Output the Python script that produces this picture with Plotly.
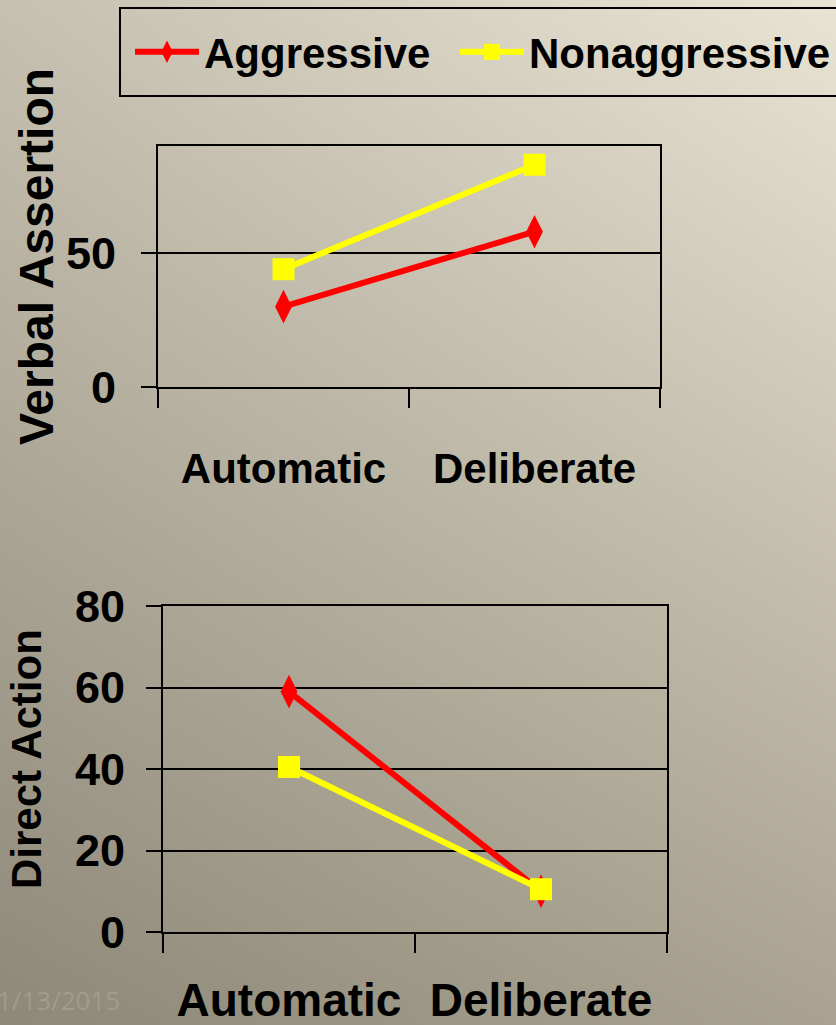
import base64
import struct
import zlib

import numpy as np
import plotly.graph_objects as go

# ---------------- data ----------------
conditions = ["Automatic", "Deliberate"]
series_names = ["Aggressive", "Nonaggressive"]
verbal_aggressive = [30, 58]
verbal_nonaggressive = [44, 83]
direct_aggressive = [59, 10]
direct_nonaggressive = [40.5, 10.5]
verbal_ticks = [0, 50]
direct_ticks = [0, 20, 40, 60, 80]
date_label = "1/13/2015"

W, H = 836, 1025
RED = "#ff0000"
YELLOW = "#ffff00"
FONT = "Liberation Sans, Arial, sans-serif"


# ---------------- background gradient (PNG data URI) ----------------
def gradient_uri(w=209, h=256):
    tl = np.array([198, 193, 177], float)
    tr = np.array([234, 228, 212], float)
    bl = np.array([142, 137, 121], float)
    br = np.array([170, 163, 145], float)
    u = np.linspace(0, 1, w)[None, :, None]
    v = np.linspace(0, 1, h)[:, None, None]
    img = (1 - u) * (1 - v) * tl + u * (1 - v) * tr + (1 - u) * v * bl + u * v * br
    img = np.clip(img, 0, 255).astype(np.uint8)
    raw = b"".join(b"\x00" + img[j].tobytes() for j in range(h))

    def chunk(tag, data):
        c = struct.pack(">I", len(data)) + tag + data
        return c + struct.pack(">I", zlib.crc32(tag + data) & 0xFFFFFFFF)

    png = (b"\x89PNG\r\n\x1a\n"
           + chunk(b"IHDR", struct.pack(">IIBBBBB", w, h, 8, 2, 0, 0, 0))
           + chunk(b"IDAT", zlib.compress(raw, 9))
           + chunk(b"IEND", b""))
    return "data:image/png;base64," + base64.b64encode(png).decode()


def px_x(p):
    return p / W


def px_y(p):
    return 1 - p / H


fig = go.Figure()

styles = {
    "Aggressive": dict(color=RED, symbol="diamond-tall", size=24, legend="legend"),
    "Nonaggressive": dict(color=YELLOW, symbol="square", size=22, legend="legend2"),
}

for name, vals in zip(series_names, [verbal_aggressive, verbal_nonaggressive]):
    st = styles[name]
    fig.add_trace(go.Scatter(
        x=conditions, y=vals, name=name, mode="lines+markers",
        line=dict(color=st["color"], width=6),
        marker=dict(color=st["color"], symbol=st["symbol"], size=st["size"]),
        xaxis="x", yaxis="y", showlegend=True, legend=st["legend"],
    ))

for name, vals in zip(series_names, [direct_aggressive, direct_nonaggressive]):
    st = styles[name]
    fig.add_trace(go.Scatter(
        x=conditions, y=vals, name=name, mode="lines+markers",
        line=dict(color=st["color"], width=6),
        marker=dict(color=st["color"], symbol=st["symbol"], size=st["size"]),
        xaxis="x2", yaxis="y2", showlegend=False,
    ))

common_x = dict(
    type="category", categoryorder="array", categoryarray=conditions,
    range=[-0.5, 1.5], tickson="boundaries", ticks="outside", ticklen=19,
    tickwidth=2, tickcolor="black", showline=True, linecolor="black",
    linewidth=2, mirror=True, showgrid=False, zeroline=False,
    tickangle=0, automargin=False,
)
common_y = dict(
    ticks="outside", ticklen=15, tickwidth=2, tickcolor="black",
    showline=True, linecolor="black", linewidth=2, mirror=True,
    showgrid=True, gridcolor="black", gridwidth=2, zeroline=False,
    automargin=False,
)
legend_common = dict(
    orientation="h", y=px_y(52), xanchor="left", yanchor="middle",
    bgcolor="rgba(0,0,0,0)", borderwidth=0,
    font=dict(family=FONT, size=42, color="black", weight=700),
    itemwidth=64, itemsizing="trace",
)

fig.update_layout(
    width=W, height=H,
    margin=dict(l=0, r=0, t=0, b=0, autoexpand=False),
    paper_bgcolor="#b5ae9c",
    plot_bgcolor="rgba(0,0,0,0)",
    images=[dict(source=gradient_uri(), xref="paper", yref="paper", x=0, y=1,
                 sizex=1, sizey=1, sizing="stretch", layer="below",
                 xanchor="left", yanchor="top")],
    xaxis=dict(common_x, domain=[px_x(158), px_x(660)], anchor="y",
               tickfont=dict(family=FONT, size=42, color="black", weight=700),
               ticklabelstandoff=44),
    yaxis=dict(common_y, domain=[px_y(387), px_y(146)], anchor="x",
               range=[0, 90], tickvals=verbal_ticks,
               tickfont=dict(family=FONT, size=45, color="black", weight=700),
               ticklabelstandoff=16),
    xaxis2=dict(common_x, domain=[px_x(163), px_x(667)], anchor="y2",
                tickfont=dict(family=FONT, size=46, color="black", weight=700),
                ticklabelstandoff=27),
    yaxis2=dict(common_y, domain=[px_y(932), px_y(606)], anchor="x2",
                range=[0, 80], tickvals=direct_ticks,
                tickfont=dict(family=FONT, size=45, color="black", weight=700),
                ticklabelstandoff=12),
    legend=dict(legend_common, x=px_x(130)),
    legend2=dict(legend_common, x=px_x(455)),
    shapes=[dict(type="rect", xref="paper", yref="paper",
                 x0=px_x(120), x1=px_x(850), y0=px_y(96), y1=px_y(8),
                 line=dict(color="black", width=2), fillcolor="rgba(0,0,0,0)",
                 layer="above")],
    annotations=[
        dict(text="Verbal Assertion", textangle=-90, xref="paper", yref="paper",
             x=px_x(36), y=px_y(257), xanchor="center", yanchor="middle",
             showarrow=False,
             font=dict(family=FONT, size=48, color="black", weight=700)),
        dict(text="Direct Action", textangle=-90, xref="paper", yref="paper",
             x=px_x(26), y=px_y(759), xanchor="center", yanchor="middle",
             showarrow=False,
             font=dict(family=FONT, size=42, color="black", weight=700)),
        dict(text=date_label, xref="paper", yref="paper",
             x=px_x(-5), y=px_y(1000), xanchor="left", yanchor="middle",
             showarrow=False,
             font=dict(family="Open Sans, sans-serif", size=26,
                       color="rgba(165,160,145,0.85)")),
    ],
)

fig.write_html("out.html", config={"displayModeBar": False},
               post_script="document.body.style.margin='0px';")
